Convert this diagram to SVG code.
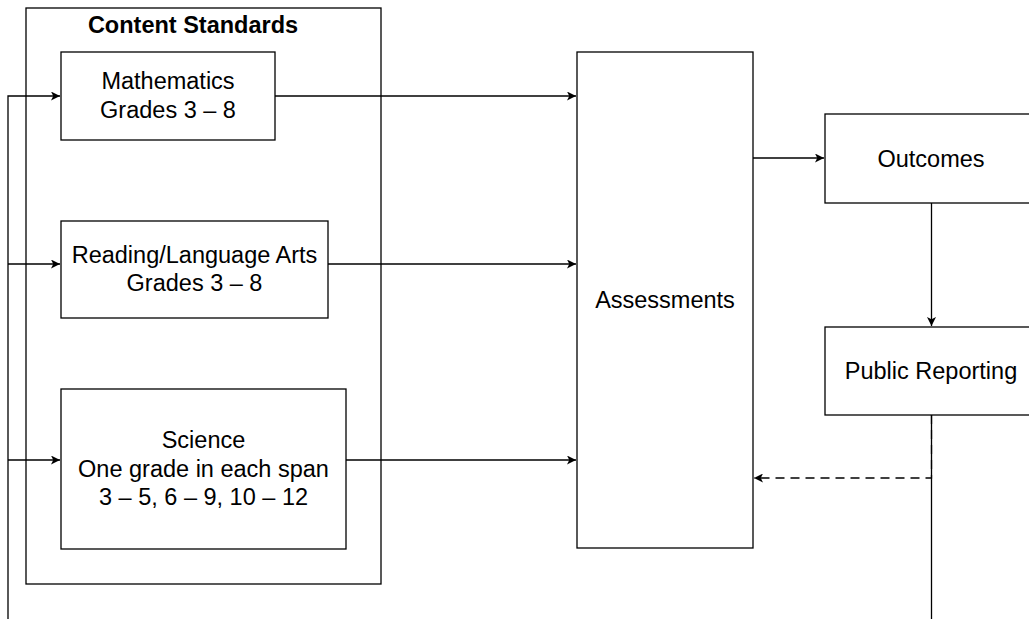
<svg xmlns="http://www.w3.org/2000/svg" width="1029" height="619" viewBox="0 0 1029 619">
<style>
.box{fill:#fff;stroke:#000;stroke-width:1.3}
.t{font-family:"Liberation Sans",Arial,sans-serif;font-size:23.5px;fill:#000;text-anchor:middle}
.b{font-weight:bold}
.c{fill:none;stroke:#000;stroke-width:1.3}
.d{stroke-dasharray:9 6}
</style>
<defs>
<marker id="ah" viewBox="0 0 10 10" refX="10" refY="5" markerWidth="9" markerHeight="9" markerUnits="userSpaceOnUse" orient="auto">
<path d="M0,0 L10,5 L0,10 L2.5,5 Z" fill="#000"/>
</marker>
</defs>
<rect width="1029" height="619" fill="#fff"/>
<g id="content-standards">
<rect class="box" x="26" y="8" width="355" height="576"/>
<text class="t b" x="193" y="33">Content Standards</text>
</g>
<g id="mathematics">
<rect class="box" x="61" y="52" width="214" height="88"/>
<text class="t" x="168" y="89">Mathematics</text>
<text class="t" x="168" y="118">Grades 3 – 8</text>
</g>
<g id="reading">
<rect class="box" x="61" y="221" width="267" height="97"/>
<text class="t" x="194.5" y="263">Reading/Language Arts</text>
<text class="t" x="194.5" y="291">Grades 3 – 8</text>
</g>
<g id="science">
<rect class="box" x="61" y="389" width="285" height="160"/>
<text class="t" x="203.5" y="448">Science</text>
<text class="t" x="203.5" y="477">One grade in each span</text>
<text class="t" x="203.5" y="505">3 – 5, 6 – 9, 10 – 12</text>
</g>
<g id="assessments">
<rect class="box" x="577" y="52" width="176" height="496"/>
<text class="t" x="665" y="308">Assessments</text>
</g>
<g id="outcomes">
<rect class="box" x="825" y="114" width="212" height="89"/>
<text class="t" x="931" y="167">Outcomes</text>
</g>
<g id="public-reporting">
<rect class="box" x="825" y="327" width="212" height="88"/>
<text class="t" x="931" y="379">Public Reporting</text>
</g>
<g id="connectors">
<path class="c" d="M8,619 L8,96 L60,96" marker-end="url(#ah)"/>
<path class="c" d="M8,264 L60,264" marker-end="url(#ah)"/>
<path class="c" d="M8,460 L60,460" marker-end="url(#ah)"/>
<path class="c" d="M275,96 L576,96" marker-end="url(#ah)"/>
<path class="c" d="M328,264 L576,264" marker-end="url(#ah)"/>
<path class="c" d="M346,460 L576,460" marker-end="url(#ah)"/>
<path class="c" d="M753,158 L824,158" marker-end="url(#ah)"/>
<path class="c" d="M931.5,203 L931.5,326" marker-end="url(#ah)"/>
<path class="c" d="M931.5,415 L931.5,619"/>
<path class="c d" d="M931.5,415 L931.5,478 L754,478" marker-end="url(#ah)"/>
</g>
</svg>
